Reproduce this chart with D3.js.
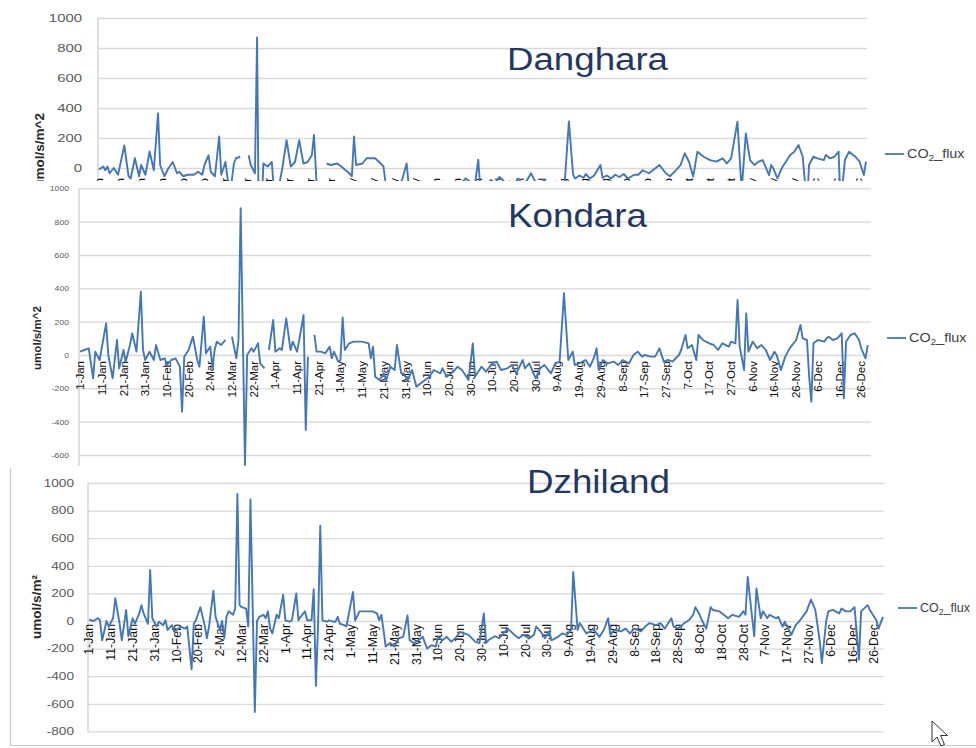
<!DOCTYPE html>
<html>
<head>
<meta charset="utf-8">
<script src="https://cdn.jsdelivr.net/npm/d3@7"></script>
<style>
  body { margin: 0; background: #fff; }
  svg { display: block; font-family: "Liberation Sans", Arial, sans-serif; }
</style>
</head>
<body>
<svg id="chart" width="976" height="748"></svg>
<script>
const width = 976,
    height = 748,
    DAYS = 365,
    LINE_COLOR = "#4277b8",
    GRID_COLOR = "#d9d9d9";

const FLUX_TICKS = [1000, 800, 600, 400, 200, 0, -200, -400, -600, -800];

// category labels, one every 10 days
const kondaraDates = ["1-Jan", "11-Jan", "21-Jan", "31-Jan", "10-Feb", "20-Feb", "2-Mar", "12-Mar", "22-Mar",
    "1-Apr", "11-Apr", "21-Apr", "1-May", "11-May", "21-May", "31-May", "10-Jun", "20-Jun", "30-Jun",
    "10-Jul", "20-Jul", "30-Jul", "9-Aug", "19-Aug", "29-Aug", "8-Sep", "17-Sep", "27-Sep", "7-Oct",
    "17-Oct", "27-Oct", "6-Nov", "16-Nov", "26-Nov", "6-Dec", "16-Dec", "26-Dec"];
const dzhilandDates = ["1-Jan", "11-Jan", "21-Jan", "31-Jan", "10-Feb", "20-Feb", "2-Mar", "12-Mar", "22-Mar",
    "1-Apr", "11-Apr", "21-Apr", "1-May", "11-May", "21-May", "31-May", "10-Jun", "20-Jun", "30-Jun",
    "10-Jul", "20-Jul", "30-Jul", "9-Aug", "19-Aug", "29-Aug", "8-Sep", "18-Sep", "28-Sep", "8-Oct",
    "18-Oct", "28-Oct", "7-Nov", "17-Nov", "27-Nov", "6-Dec", "16-Dec", "26-Dec"];

// [day of year, CO2 flux umol/s/m^2], null = missing
const dangharaFlux = [[0,-10],[2,10],[3,-15],[4,10],[5,-35],[7,0],[9,-45],[12,150],[14,-55],[15,-70],[17,65],[19,-55],[20,20],[22,-45],[24,110],[26,-15],[28,365],[29,20],[31,-55],[33,0],[35,40],[37,-35],[38,-25],[40,-55],[42,-45],[45,-45],[47,-25],[49,-45],[50,20],[52,85],[53,-25],[55,-55],[57,210],[58,-45],[60,40],[61,-70],[62,-200],[64,30],[65,65],[67,75],[68,null],[71,85],[72,20],[74,-35],[75,870],[76,-660],[78,30],[80,10],[82,40],[83,-150],[85,-150],[87,0],[89,185],[91,10],[93,40],[95,185],[97,30],[99,40],[101,85],[102,220],[104,-300],[106,null],[108,30],[110,20],[113,30],[115,10],[117,-15],[118,-25],[120,-55],[121,210],[122,20],[125,30],[127,65],[131,65],[133,40],[135,10],[136,-100],[138,-150],[140,-110],[142,-150],[144,-70],[146,30],[147,-120],[149,-110],[151,-150],[153,-90],[155,-190],[157,-170],[159,-150],[161,-130],[163,-90],[166,-110],[168,-130],[170,-100],[172,-100],[174,-70],[176,-90],[178,-150],[180,55],[181,-150],[184,-110],[186,-80],[188,-100],[190,-60],[193,-100],[195,-90],[197,-110],[199,-70],[201,-110],[203,-85],[205,-35],[207,-90],[209,-140],[211,-80],[213,-100],[215,-120],[217,-90],[219,-110],[221,-100],[223,310],[225,-45],[226,-70],[228,-50],[230,-65],[231,-40],[233,-70],[235,-50],[238,20],[239,-65],[241,-50],[243,-70],[245,-45],[247,-60],[249,-40],[251,-70],[254,-45],[256,-45],[258,-15],[261,-35],[263,-13],[266,20],[269,-35],[271,-55],[274,-13],[276,20],[278,98],[280,42],[282,-58],[284,109],[287,75],[290,53],[293,42],[296,64],[298,31],[300,64],[303,309],[305,-150],[307,231],[309,53],[311,20],[313,42],[315,53],[318,-47],[319,20],[320,-2],[322,-70],[324,-2],[326,42],[328,87],[330,109],[332,153],[334,75],[336,-250],[337,20],[339,75],[341,64],[344,53],[345,87],[347,64],[349,75],[351,109],[352,-250],[354,53],[356,109],[359,75],[361,42],[363,-47],[364,42]];

const kondaraFlux = [[0,20],[2,30],[4,40],[6,-140],[7,20],[9,-30],[12,190],[13,0],[15,-140],[17,90],[18,-80],[20,30],[21,-40],[23,60],[24,130],[26,20],[28,380],[29,30],[30,-30],[32,20],[34,-30],[35,60],[37,-30],[39,-20],[40,-60],[42,-30],[44,-20],[46,-70],[47,-340],[48,-10],[50,30],[52,110],[54,-30],[55,-70],[57,230],[58,10],[60,50],[61,-80],[62,30],[63,80],[65,60],[67,90],[68,null],[70,110],[72,-20],[73,90],[74,880],[76,-660],[77,0],[79,40],[80,20],[82,70],[83,-50],[85,-80],[86,null],[87,30],[89,210],[90,20],[92,40],[93,30],[95,220],[97,30],[98,80],[100,20],[101,90],[103,240],[104,-450],[105,-10],[106,null],[108,120],[109,20],[111,20],[113,10],[115,50],[116,-20],[117,20],[119,-40],[120,-30],[121,225],[122,30],[124,70],[126,80],[130,80],[133,70],[134,-20],[135,50],[136,-130],[138,-150],[140,-110],[141,-150],[143,-70],[145,-90],[146,60],[148,-110],[149,-110],[151,-150],[153,-90],[155,-190],[157,-170],[159,-150],[161,-130],[163,-90],[166,-110],[167,-80],[169,-130],[172,-100],[174,-70],[176,-90],[179,-150],[181,70],[182,-130],[183,-110],[185,-70],[187,-100],[190,-50],[192,-40],[194,-90],[197,-80],[199,-60],[201,-110],[204,-30],[205,-80],[207,-50],[210,-140],[212,-80],[214,-60],[217,-110],[219,-50],[221,-40],[223,370],[225,-30],[227,20],[228,-60],[230,-50],[233,-30],[235,-70],[237,-10],[238,40],[239,-90],[241,-30],[243,-50],[246,-40],[248,-60],[250,-30],[253,-50],[255,0],[257,20],[259,-10],[260,0],[263,-10],[265,-10],[267,40],[269,-40],[271,-30],[273,-40],[276,0],[277,30],[279,120],[280,40],[282,60],[284,-30],[285,120],[287,90],[290,70],[292,60],[294,30],[296,70],[299,50],[300,80],[302,70],[303,330],[304,50],[306,-90],[307,250],[308,20],[310,80],[312,40],[314,60],[316,30],[318,-30],[320,20],[321,0],[323,-90],[325,-10],[327,40],[330,90],[332,180],[333,100],[335,90],[336,-130],[337,-280],[338,70],[340,90],[343,80],[344,100],[345,110],[347,90],[349,100],[351,130],[352,-260],[353,80],[355,120],[357,130],[359,90],[360,40],[362,-20],[363,60]];

const dzhilandFlux = [[0,10],[2,0],[4,20],[5,5],[6,-140],[8,0],[9,-40],[11,20],[12,165],[14,-20],[15,-140],[17,80],[18,-110],[20,20],[21,-20],[23,55],[24,115],[25,55],[27,-20],[28,370],[29,20],[31,-40],[32,-5],[34,-30],[35,5],[36,-65],[38,-30],[39,-75],[41,-55],[42,-40],[44,-55],[45,-40],[47,-350],[48,-20],[49,5],[51,100],[53,-30],[54,-125],[55,-40],[57,220],[58,30],[60,-65],[61,0],[62,-125],[63,30],[64,70],[66,45],[67,90],[68,920],[69,115],[70,100],[72,90],[73,-40],[74,880],[76,-660],[77,0],[78,30],[80,45],[81,20],[82,70],[83,-55],[84,-90],[86,45],[87,20],[89,190],[90,5],[92,-5],[93,5],[95,200],[96,5],[97,30],[99,70],[100,5],[102,5],[103,230],[104,-470],[105,-30],[106,690],[107,5],[109,-5],[110,5],[112,-5],[113,-5],[114,30],[115,-20],[117,-30],[118,-40],[121,210],[122,5],[124,70],[126,70],[130,70],[132,55],[133,5],[134,45],[135,-65],[136,-185],[138,-160],[140,-185],[142,-125],[144,-115],[146,40],[147,-140],[149,-160],[150,-150],[153,-115],[155,-200],[157,-175],[159,-185],[160,-115],[162,-140],[164,-115],[166,-150],[168,-125],[170,-80],[172,-90],[174,-100],[177,-150],[179,-160],[181,55],[182,-160],[183,-140],[186,-110],[188,-125],[190,-90],[192,-55],[195,-100],[197,-125],[199,-100],[202,-125],[204,-100],[205,-40],[207,-75],[209,-125],[211,-75],[212,-140],[215,-115],[217,-90],[219,-100],[221,-65],[222,355],[224,-65],[225,-15],[228,-90],[230,-75],[231,-55],[234,-115],[236,-65],[238,20],[239,-100],[241,-65],[244,-75],[246,-55],[248,-90],[250,-55],[253,-75],[255,-40],[257,-15],[260,-30],[262,-15],[264,-55],[267,20],[268,-40],[270,-55],[273,-15],[275,5],[277,45],[278,100],[280,45],[281,5],[283,-55],[285,100],[286,80],[289,70],[291,45],[293,20],[295,45],[298,30],[300,70],[301,45],[302,320],[304,30],[305,-110],[306,235],[308,20],[309,70],[311,20],[312,45],[315,20],[316,30],[318,-40],[319,-5],[322,-100],[324,-30],[326,5],[329,70],[331,155],[333,80],[335,-140],[336,-305],[338,0],[339,70],[341,80],[344,55],[345,90],[347,70],[349,70],[351,100],[353,-280],[354,70],[357,115],[358,80],[361,5],[362,-55],[364,30]];

// each pasted chart: where it sits and how it was scaled
const panels = [
    {name: "Danghara", data: dangharaFlux, dates: dzhilandDates, clip: [0, 0, 976, 181], bg: false,
     left: 98, right: 867, zero: 168, h1000: 150, minTick: 0, tickX: 82, tickSize: 10.8, tickStretch: 1.38,
     dateTop: 178, dateSize: 11.5, ylab: {x: 39, y: 113, size: 13.5, anchor: "end", text: "umol/s/m^2"},
     title: {x: 507, y: 70, size: 31, len: 161}, legend: {x: 885, y: 154, size: 12.5, sx: 1.15}},
    {name: "Kondara", data: kondaraFlux, dates: kondaraDates, clip: [0, 181, 976, 285], bg: true,
     left: 79, right: 871, zero: 355, h1000: 166.7, minTick: -600, tickX: 69, tickSize: 7.5, tickStretch: 1.15,
     dateTop: 361, dateSize: 11.5, ylab: {x: 37, y: 338, size: 11.6, anchor: "middle", text: "umol/s/m^2"},
     title: {x: 508, y: 227, size: 33, len: 139}, legend: {x: 887, y: 338, size: 12.5, sx: 1.15}},
    {name: "Dzhiland", data: dzhilandFlux, dates: dzhilandDates, clip: [0, 466, 976, 282], bg: true,
     left: 88, right: 884, zero: 621, h1000: 138, minTick: -800, tickX: 74, tickSize: 10.5, tickStretch: 1.3,
     dateTop: 624, dateSize: 12.3, ylab: {x: 36, y: 607, size: 13.5, anchor: "middle", text: "umol/s/m\u00b2"},
     title: {x: 527, y: 493, size: 34, len: 143}, legend: {x: 898, y: 608, size: 12.5, sx: 1.0}}
];

const svg = d3.select("#chart");

// widen text to mimic the horizontally stretched screenshot
function stretch(sel, k) {
    sel.each(function () {
        const w = this.getComputedTextLength();
        this.setAttribute("textLength", w * k);
        this.setAttribute("lengthAdjust", "spacingAndGlyphs");
    });
}

function drawPanel(p, i) {
    const clipId = "clip" + i;
    svg.append("clipPath").attr("id", clipId)
        .append("rect")
        .attr("x", p.clip[0]).attr("y", p.clip[1])
        .attr("width", p.clip[2]).attr("height", p.clip[3]);

    const g = svg.append("g").attr("clip-path", `url(#${clipId})`);
    if (p.bg) {
        g.append("rect")
            .attr("x", p.clip[0]).attr("y", p.clip[1])
            .attr("width", p.clip[2]).attr("height", p.clip[3])
            .attr("fill", "#fff");
    }

    const x = d3.scalePoint().domain(d3.range(DAYS)).range([p.left, p.right]).padding(0.5);
    const y = d3.scaleLinear().domain([0, 1000]).range([p.zero, p.zero - p.h1000]);
    const ticks = FLUX_TICKS.filter(t => t >= p.minTick);

    // gridlines (the clipped tail of each chart keeps one more line)
    g.append("g")
        .attr("transform", `translate(${p.left},0)`)
        .call(d3.axisLeft(y).tickValues(FLUX_TICKS.filter(t => t >= p.minTick - 200))
            .tickSize(-(p.right - p.left)).tickFormat(""))
        .call(a => a.select(".domain").remove())
        .selectAll("line")
        .attr("stroke", GRID_COLOR)
        .attr("stroke-width", 1.3);

    g.append("line")
        .attr("x1", p.left).attr("x2", p.left)
        .attr("y1", y(1000)).attr("y2", y(-800))
        .attr("stroke", "#cfcfcf")
        .attr("stroke-width", 1.3);

    // value labels
    const yAxis = g.append("g")
        .attr("transform", `translate(${p.left},0)`)
        .call(d3.axisLeft(y).tickValues(ticks).tickSize(0)
            .tickPadding(p.left - p.tickX).tickFormat(d => String(d)))
        .attr("font-size", p.tickSize)
        .attr("font-family", null);
    yAxis.select(".domain").remove();
    yAxis.selectAll("text").attr("fill", "#595959");
    stretch(yAxis.selectAll("text"), p.tickStretch);

    // date labels, rotated, hanging under the zero line
    g.append("g")
        .selectAll("text")
        .data(p.dates)
        .join("text")
        .attr("transform", (d, k) => `translate(${x(k * 10)},${p.dateTop}) rotate(-90)`)
        .attr("text-anchor", "end")
        .attr("dy", "0.35em")
        .attr("font-size", p.dateSize)
        .attr("fill", "#111")
        .text(d => d);

    const line = d3.line()
        .defined(d => d[1] !== null)
        .x(d => x(d[0]))
        .y(d => y(d[1]));

    g.append("path")
        .datum(p.data)
        .attr("d", line)
        .attr("fill", "none")
        .attr("stroke", LINE_COLOR)
        .attr("stroke-width", 1.9)
        .attr("stroke-linejoin", "round");

    g.append("text")
        .attr("transform", `translate(${p.ylab.x},${p.ylab.y}) rotate(-90)`)
        .attr("text-anchor", p.ylab.anchor)
        .attr("dy", "0.35em")
        .attr("font-size", p.ylab.size)
        .attr("font-weight", "bold")
        .attr("fill", "#262626")
        .text(p.ylab.text);

    const title = g.append("text")
        .attr("x", p.title.x)
        .attr("y", p.title.y)
        .attr("font-size", p.title.size)
        .attr("fill", "#1f3864")
        .text(p.name);
    title.attr("textLength", p.title.len).attr("lengthAdjust", "spacingAndGlyphs");

    // legend
    const lg = g.append("g").attr("transform", `translate(${p.legend.x},${p.legend.y})`);
    lg.append("line")
        .attr("x1", 0).attr("x2", 19)
        .attr("stroke", LINE_COLOR)
        .attr("stroke-width", 1.8);
    const lt = lg.append("text")
        .attr("transform", `translate(22,0) scale(${p.legend.sx},1)`)
        .attr("dy", "0.35em")
        .attr("font-size", p.legend.size)
        .attr("fill", "#404040");
    lt.append("tspan").text("CO");
    lt.append("tspan").attr("font-size", "0.7em").attr("dy", "0.25em").text("2");
    lt.append("tspan").attr("dy", "-0.18em").text("_flux");
}

panels.forEach(drawPanel);

// frame of the bottom screenshot
svg.append("path")
    .attr("d", "M10.5,468V745.5H976")
    .attr("fill", "none")
    .attr("stroke", "#c8c8c8")
    .attr("stroke-width", 1.2);

// mouse pointer left in the screenshot
svg.append("path")
    .attr("d", "M932,721 L932,742 L937,737 L941,746 L944.5,744.5 L940.5,735.5 L947.5,735.5 Z")
    .attr("fill", "#fff")
    .attr("stroke", "#333")
    .attr("stroke-width", 1);
</script>
</body>
</html>
